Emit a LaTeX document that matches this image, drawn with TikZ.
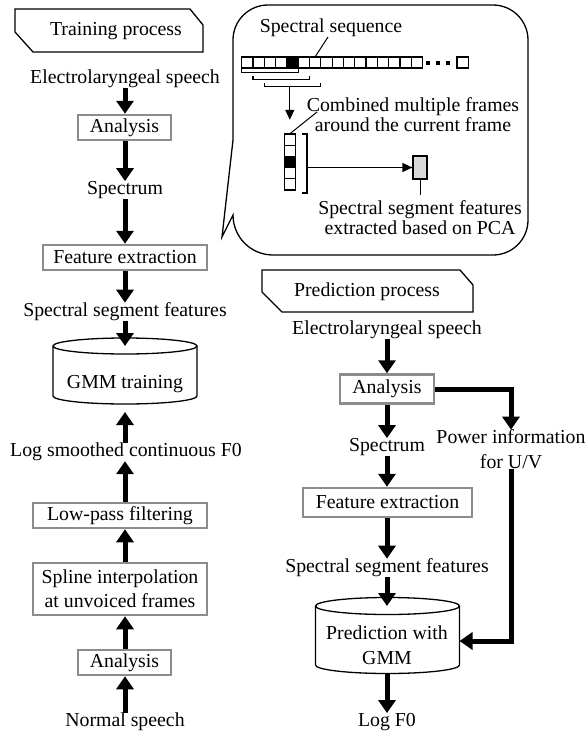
\documentclass[tikz,border=0pt]{standalone}
\usepackage{fontspec}
\setmainfont{Liberation Serif}
\usetikzlibrary{arrows.meta}

\begin{document}
\begin{tikzpicture}[x=1pt,y=1pt,
  font=\fontsize{19.8}{24}\selectfont,
  every node/.style={inner sep=0pt},
  procbox/.style={draw=boxgray,line width=2.5pt,minimum height=25pt},
  fat/.style={line width=5pt,-{Triangle[width=17pt,length=13pt]}},
  slim/.style={line width=1.3pt,-{Triangle[width=9pt,length=10pt]}}]
\colorlet{boxgray}{black!45}
\useasboundingbox (0,0) rectangle (587,-736);
\coordinate (lcol) at (125,0);
\coordinate (rcol) at (387,0);
% training process
\draw[line width=1.3pt] (15,-9) -- (190,-9) -- (203,-25) -- (203,-52) -- (33,-52) -- (15,-32) -- cycle;
\node (trhead) at (116,-31) {Training process};
\node (tin) at (125,-79) {Electrolaryngeal speech};
\node[procbox,minimum width=93pt] (tana) at (124.5,-127.5) {Analysis};
\node (tspec) at (125,-190) {Spectrum};
\node[procbox,minimum width=164pt] (tfeat) at (125,-257.5) {Feature extraction};
\node (tseg) at (125,-312) {Spectral segment features};
\draw[line width=1.3pt] (53,-346) -- (53,-396) arc[start angle=180,end angle=360,x radius=72,y radius=8] -- (197,-346);
\draw[line width=1.3pt] (125,-346) ellipse[x radius=72,y radius=8];
\node (trgmm) at (125,-384) {GMM training};
\coordinate (trtop) at (125,-346);
\coordinate (trbot) at (125,-412);
\node (tlog) at (126,-452) {Log smoothed continuous F0};
\node[procbox,minimum width=174pt] (tlp) at (120,-515.5) {Low-pass filtering};
\node[procbox,minimum width=174pt,minimum height=52pt,align=center] (tspl) at (120,-589) {Spline interpolation\\at unvoiced frames};
\node[procbox,minimum width=93pt] (tana2) at (124.5,-662.5) {Analysis};
\node (tnorm) at (125,-722) {Normal speech};
\draw[fat] (tin.south -| lcol) -- (tana.north -| lcol);
\draw[fat] (tana.south -| lcol) -- (tspec.north -| lcol);
\draw[fat] (tspec.south -| lcol) -- (tfeat.north -| lcol);
\draw[fat] (tfeat.south -| lcol) -- (tseg.north -| lcol);
\draw[fat] (tseg.south -| lcol) -- (trtop);
\draw[fat] (tlog.north -| lcol) -- (trbot);
\draw[fat] (tlp.north -| lcol) -- (tlog.south -| lcol);
\draw[fat] (tspl.north -| lcol) -- (tlp.south -| lcol);
\draw[fat] (tana2.north -| lcol) -- (tspl.south -| lcol);
\draw[fat] (tnorm.north -| lcol) -- (tana2.south -| lcol);
% callout with segment features
\draw[line width=1.3pt] (233,-140) -- (233,-40) arc[start angle=180,end angle=90,radius=35] -- (493,-5)
  arc[start angle=90,end angle=0,radius=35] -- (528,-220) arc[start angle=0,end angle=-90,radius=35]
  -- (273,-255) arc[start angle=270,end angle=180,radius=40] -- (222,-237) -- cycle;
\node (spseq) at (331,-28) {Spectral sequence};
\foreach \i in {0,...,15}
  \draw[line width=1.2pt] ({241.7+11.3*\i},-57) rectangle ++(11.3,-11);
\filldraw[line width=1.2pt] (286.9,-57) rectangle ++(11.3,-11);
\foreach \x in {426,436,446}
  \fill (\x,-60.5) rectangle ++(4,-4);
\draw[line width=1.2pt] (457,-57) rectangle ++(11.5,-11);
\coordinate (sqrow) at (315,-57);
\draw[line width=1pt] (328,-37) -- (sqrow);
\foreach \k in {0,1,2}
  \draw[line width=1.2pt] ({241.7+11.3*\k},{-69-7*\k}) -- ++(0,-3.5) -- ++(56.5,0) -- ++(0,3.5);
\coordinate (seldown) at (289.8,-86.5);
\node[minimum width=11pt,minimum height=56pt] (stack) at (289.8,-162) {};
\foreach \j in {0,...,4}
  \draw[line width=1.2pt] (284.3,{-134-11.2*\j}) rectangle ++(11,-11.2);
\filldraw[line width=1.2pt] (284.3,-156.4) rectangle ++(11,-11.2);
\draw[slim] (seldown) -- ([yshift=14pt]stack.north);
\node[align=center,font=\fontsize{19.8}{20}\selectfont] (comb) at (413,-115) {Combined multiple frames\\around the current frame};
\coordinate (combend) at (317,-112);
\draw[line width=1pt] (combend) -- (stack.north);
\draw[line width=1.3pt] (302,-134) -- (307,-134) -- (307,-193) -- (302,-193);
\coordinate (brk) at (307,-167.5);
\node[draw,fill=black!15,line width=1.2pt,minimum width=14pt,minimum height=23pt] (pcafeat) at (420,-167.5) {};
\draw[slim] (brk) -- (pcafeat.west);
\node[align=center,font=\fontsize{19.8}{20}\selectfont] (pcalab) at (420,-218) {Spectral segment features\\extracted based on PCA};
\draw[line width=1pt] (pcafeat.south) -- ++(0,-15);
% prediction process
\draw[line width=1.3pt] (262,-270) -- (460,-270) -- (473,-285) -- (473,-312) -- (282,-312) -- (262,-292) -- cycle;
\node (prhead) at (367,-292) {Prediction process};
\node (pin) at (387,-330) {Electrolaryngeal speech};
\node[procbox,minimum width=94pt,minimum height=29pt] (pana) at (387,-389) {Analysis};
\node (pspec) at (387,-447) {Spectrum};
\node[procbox,minimum width=169pt,minimum height=29pt] (pfeat) at (387.5,-502.5) {Feature extraction};
\node (pseg) at (387,-568) {Spectral segment features};
\draw[line width=1.3pt] (315.5,-606) -- (315.5,-665) arc[start angle=180,end angle=360,x radius=72,y radius=8.5] -- (459.5,-606);
\draw[line width=1.3pt] (387.5,-606) ellipse[x radius=72,y radius=8.5];
\node[align=center,font=\fontsize{19.8}{25}\selectfont] (prgmm) at (387,-645) {Prediction with\\GMM};
\coordinate (prtop) at (387,-606);
\coordinate (prbot) at (387,-673.5);
\coordinate (prside) at (459.5,-641);
\node (plog) at (387,-722) {Log F0};
\node[align=center,font=\fontsize{19.8}{25}\selectfont] (power) at (511,-449.5) {Power information\\for U/V};
\draw[fat] (pin.south -| rcol) -- (pana.north -| rcol);
\draw[fat] (pana.south -| rcol) -- (pspec.north -| rcol);
\draw[fat] (pspec.south -| rcol) -- (pfeat.north -| rcol);
\draw[fat] (pfeat.south -| rcol) -- (pseg.north -| rcol);
\draw[fat] (pseg.south -| rcol) -- (prtop);
\draw[fat] (prbot) -- (plog.north -| rcol);
\draw[fat] (pana.east) -| (power.north);
\draw[fat] (power.south) |- (prside);
\end{tikzpicture}
\end{document}
